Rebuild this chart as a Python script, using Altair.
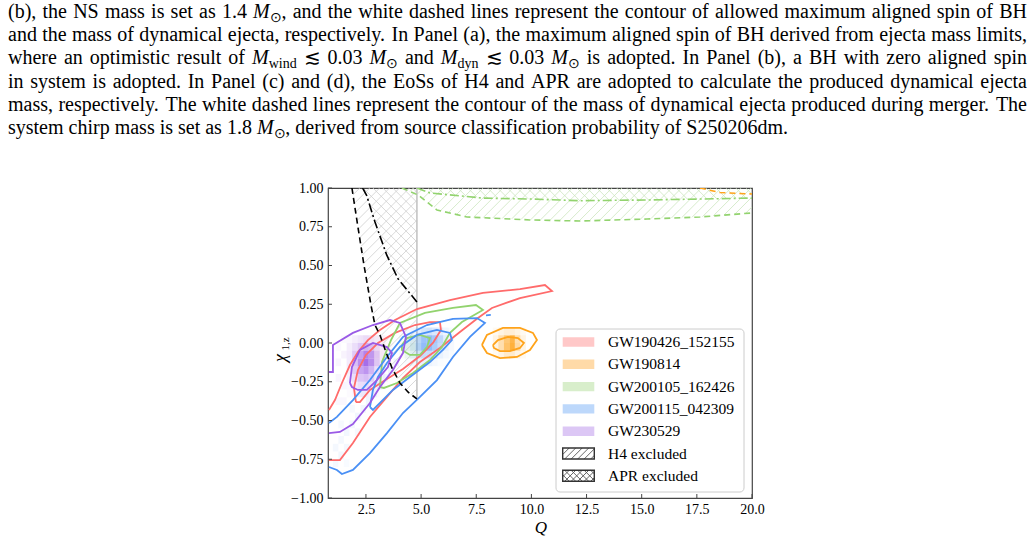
import re

import altair as alt
import numpy as np
import pandas as pd

SERIF = "Liberation Serif"

# page position of the plot frame (left, top); plot area is 424 x 310 px
ORIGIN_X, ORIGIN_Y = 328, 188
PLOT_W, PLOT_H = 424, 310

# ---------------------------------------------------------------- caption
# {..} italic, [..] subscript
caption_lines = [
    "(b), the NS mass is set as 1.4 {M}[\u2299], and the white dashed lines represent the contour of allowed maximum aligned spin of BH",
    "and the mass of dynamical ejecta, respectively. In Panel (a), the maximum aligned spin of BH derived from ejecta mass limits,",
    "where an optimistic result of {M}[wind] \u2272 0.03 {M}[\u2299] and {M}[dyn] \u2272 0.03 {M}[\u2299] is adopted. In Panel (b), a BH with zero aligned spin",
    "in system is adopted. In Panel (c) and (d), the EoSs of H4 and APR are adopted to calculate the produced dynamical ejecta",
    "mass, respectively. The white dashed lines represent the contour of the mass of dynamical ejecta produced during merger. The",
    "system chirp mass is set as 1.8 {M}[\u2299], derived from source classification probability of S250206dm.",
]
caption_baselines = [18, 41, 64, 87.5, 110.5, 133.5]
TEXT_LEFT, TEXT_RIGHT = 8, 1027
BODY_SIZE, SUB_SIZE = 20, 14

# ---------------------------------------------------------------- axes
Q_DOMAIN = [0.78, 20.0]
CHI_DOMAIN = [-1.0, 1.0]
x_ticks = [2.5, 5.0, 7.5, 10.0, 12.5, 15.0, 17.5, 20.0]
y_ticks = [-1.0, -0.75, -0.5, -0.25, 0.0, 0.25, 0.5, 0.75, 1.0]

events = ["GW190426_152155", "GW190814", "GW200105_162426", "GW200115_042309", "GW230529"]
line_colors = ["#ff6b6b", "#ffa31a", "#92d36e", "#4a90f5", "#9a5ae6"]
patch_colors = ["#ffc8c8", "#ffdaa8", "#d8eecb", "#bdd8fb", "#dcc7f5"]

# ---------------------------------------------------------------- excluded regions
EDGE_Q = 4.81
h4_q = [1.865, 2.137, 2.41, 2.727, 2.908, 3.135, 3.407, 3.68, 4.04, 4.404, 4.81]
h4_chi = [1.0, 0.748, 0.503, 0.245, 0.116, 0.052, -0.058, -0.161, -0.258, -0.316, -0.361]
apr_q = [2.35, 2.53, 2.91, 3.44, 3.95, 4.81]
apr_chi = [1.0, 0.953, 0.78, 0.568, 0.415, 0.265]
green_dash_q = [4.13, 4.86, 5.72, 7.08, 9.93, 12.2, 15.24, 17.64, 20.0]
green_dash_chi = [1.0, 0.955, 0.858, 0.813, 0.794, 0.787, 0.80, 0.813, 0.839]
green_dashdot_q = [4.81, 5.40, 7.80, 9.93, 12.2, 15.37, 20.0]
green_dashdot_chi = [1.0, 0.968, 0.935, 0.929, 0.918, 0.923, 0.935]
orange_dash_q = [17.64, 18.55, 20.0]
orange_dash_chi = [1.0, 0.971, 0.961]

# ---------------------------------------------------------------- credible contours (Q, chi_1z)
gw190426_outer = [(0.823, -0.432), (1.095, -0.368), (1.412, -0.258), (1.775, -0.142), (2.138, -0.058),
                  (2.591, 0.019), (3.135, 0.084), (3.815, 0.148), (4.812, 0.219), (6.308, 0.277),
                  (7.804, 0.323), (9.481, 0.348), (10.614, 0.374), (10.932, 0.335), (9.481, 0.29),
                  (8.212, 0.226), (7.577, 0.161), (6.76, 0.071), (5.854, -0.032), (4.948, -0.123),
                  (4.177, -0.226), (3.452, -0.348), (2.681, -0.477), (1.91, -0.645), (1.32, -0.755),
                  (0.823, -0.755)]
gw190426_inner = [(2.046, -0.381), (1.956, -0.29), (2.137, -0.174), (2.5, -0.077), (3.044, 0.0),
                  (3.815, 0.065), (4.721, 0.116), (5.401, 0.135), (5.854, 0.135), (5.9, 0.084),
                  (5.537, 0.0), (4.948, -0.084), (4.177, -0.168), (3.452, -0.232), (2.681, -0.303),
                  (2.228, -0.381), (2.046, -0.381)]
gw190814_outer = [(7.758, -0.013), (7.985, 0.052), (8.71, 0.097), (9.481, 0.097), (10.07, 0.065),
                  (10.252, 0.019), (9.934, -0.045), (9.345, -0.09), (8.574, -0.097), (7.985, -0.065),
                  (7.758, -0.013)]
gw190814_inner = [(8.257, -0.013), (8.484, 0.019), (8.937, 0.039), (9.39, 0.032), (9.662, 0.0),
                  (9.481, -0.032), (9.028, -0.052), (8.574, -0.052), (8.302, -0.032), (8.257, -0.013)]
gw200105_outer = [(3.136, -0.284), (3.227, -0.123), (3.635, 0.019), (4.041, 0.129), (5.174, 0.194),
                  (6.444, 0.226), (7.486, 0.245), (7.804, 0.213), (7.486, 0.187), (6.852, 0.135),
                  (6.308, 0.065), (5.945, -0.026), (5.401, -0.11), (4.63, -0.194), (3.905, -0.258),
                  (3.316, -0.29), (3.136, -0.284)]
gw200105_inner = [(4.132, -0.013), (4.358, 0.032), (4.948, 0.052), (5.401, 0.032), (5.265, -0.026),
                  (4.948, -0.077), (4.494, -0.077), (4.132, -0.045), (4.132, -0.013)]
gw200115_outer = [(0.823, -0.516), (1.185, -0.477), (1.91, -0.368), (2.681, -0.239), (3.452, -0.09),
                  (4.177, 0.039), (5.265, 0.116), (6.444, 0.155), (7.532, 0.161), (7.895, 0.129),
                  (7.215, 0.039), (6.444, -0.09), (5.719, -0.239), (4.948, -0.348), (4.177, -0.452),
                  (3.452, -0.581), (2.681, -0.71), (1.91, -0.819), (1.411, -0.845), (1.185, -0.819),
                  (0.823, -0.8)]
gw200115_inner = [(2.681, -0.413), (2.817, -0.303), (3.044, -0.219), (3.452, -0.129), (4.041, -0.026),
                  (4.811, 0.052), (5.718, 0.084), (6.308, 0.065), (6.398, 0.019), (5.99, -0.045),
                  (5.401, -0.123), (4.494, -0.219), (3.724, -0.303), (3.135, -0.387), (2.817, -0.432),
                  (2.681, -0.413)]
gw200115_speck = [(7.94, 0.178), (8.16, 0.181)]
gw230529_outer = [(0.823, -0.187), (1.004, -0.187), (1.004, -0.013), (1.91, 0.065), (2.817, 0.116),
                  (3.588, 0.148), (4.041, 0.129), (4.313, 0.039), (4.177, -0.065), (3.724, -0.174),
                  (3.135, -0.284), (2.681, -0.387), (1.91, -0.523), (1.32, -0.574), (0.823, -0.581)]
gw230529_inner = [(1.774, -0.258), (1.865, -0.155), (2.228, -0.045), (2.817, 0.0), (3.452, -0.026),
                  (3.679, -0.065), (3.497, -0.155), (2.998, -0.239), (2.545, -0.303), (2.137, -0.303),
                  (1.865, -0.284), (1.774, -0.258)]

contours = [
    ("GW190426_152155", gw190426_outer), ("GW190426_152155", gw190426_inner),
    ("GW190814", gw190814_outer), ("GW190814", gw190814_inner),
    ("GW200105_162426", gw200105_outer), ("GW200105_162426", gw200105_inner),
    ("GW200115_042309", gw200115_outer), ("GW200115_042309", gw200115_inner),
    ("GW200115_042309", gw200115_speck),
    ("GW230529", gw230529_outer), ("GW230529", gw230529_inner),
]

# ---------------------------------------------------------------- posterior densities (bin centres, opacity)
BIN_Q, BIN_CHI = 0.25, 0.05
orange_q = [8.375, 8.625, 8.875, 9.125, 9.375, 9.625]
orange_chi = [0.075, 0.025, -0.025, -0.075]
orange_a = [[.06, .12, .18, .18, .12, .06],
            [.12, .35, .60, .80, .35, .12],
            [.12, .35, .65, .85, .40, .12],
            [.06, .12, .22, .22, .12, .06]]
purple_q = [1.75, 2.0, 2.25, 2.5, 2.75, 3.0, 3.25]
purple_chi = [0.025, -0.025, -0.075, -0.125, -0.175, -0.225, -0.275, -0.325]
purple_a = [[.05, .10, .15, .20, .15, .10, .05],
            [.10, .20, .32, .45, .38, .20, .08],
            [.12, .32, .55, .75, .62, .32, .10],
            [.12, .38, .68, .88, .68, .32, .10],
            [.10, .32, .55, .65, .45, .20, .08],
            [.08, .20, .35, .40, .30, .12, .05],
            [.05, .12, .20, .22, .15, .08, .03],
            [.03, .06, .10, .10, .06, .03, .00]]
blue_q = [4.375, 4.625, 4.875, 5.125, 5.375, 5.625, 5.875, 6.125, 6.375]
blue_chi = [0.075, 0.025, -0.025, -0.075, -0.125]
blue_a = [[.04, .08, .15, .22, .25, .20, .15, .08, .04],
          [.08, .15, .35, .55, .60, .50, .35, .15, .06],
          [.08, .18, .40, .60, .60, .45, .30, .12, .05],
          [.05, .12, .22, .30, .30, .22, .12, .06, .03],
          [.03, .06, .10, .12, .10, .06, .03, .02, .00]]
red_q = [2.375, 2.625, 2.875, 3.125, 3.375, 3.625]
red_chi = [0.025, -0.025, -0.075, -0.125]
red_a = [[.02, .02, .03, .03, .03, .02],
         [.03, .04, .05, .05, .04, .03],
         [.04, .06, .06, .05, .04, .02],
         [.03, .04, .04, .03, .02, .01]]
green_q = [4.125, 4.375, 4.625, 4.875]
green_chi = [0.025, -0.025, -0.075]
green_a = [[.05, .10, .12, .08],
           [.08, .15, .18, .10],
           [.04, .08, .10, .05]]
# faint tail of the GW200115_042309 / GW230529 posteriors towards low Q
blue_tail = [(1.125, -0.675, .06), (1.375, -0.725, .07), (1.375, -0.625, .06), (1.625, -0.675, .06),
             (1.625, -0.575, .07), (1.875, -0.525, .07), (2.125, -0.475, .08), (2.125, -0.575, .05),
             (2.375, -0.425, .08), (2.625, -0.375, .08), (2.875, -0.325, .08), (3.125, -0.275, .08),
             (3.375, -0.225, .08), (3.625, -0.175, .08), (3.875, -0.125, .08), (1.125, -0.775, .05),
             (1.625, -0.775, .04), (1.375, -0.525, .05), (1.875, -0.425, .05), (2.375, -0.325, .05)]
purple_tail = [(1.25, -0.125, .06), (1.25, -0.225, .06), (1.5, -0.075, .07), (1.5, -0.275, .06),
               (1.25, -0.375, .05), (1.5, -0.375, .05), (1.25, -0.025, .04), (1.5, 0.025, .04)]

densities = [
    ("GW190426_152155", red_q, red_chi, red_a),
    ("GW200105_162426", green_q, green_chi, green_a),
    ("GW200115_042309", blue_q, blue_chi, blue_a),
    ("GW230529", purple_q, purple_chi, purple_a),
    ("GW190814", orange_q, orange_chi, orange_a),
]

# ---------------------------------------------------------------- helpers
XS = alt.Scale(domain=Q_DOMAIN, nice=False, zero=False)
YS = alt.Scale(domain=CHI_DOMAIN, nice=False, zero=False)
AX_X = alt.Axis(values=x_ticks, format=".1f", title=None, ticks=False, domain=False, grid=False,
                labelFont=SERIF, labelFontSize=14, labelColor="black", labelPadding=4,
                labelFlush=False, labelOverlap=False)
AX_Y = alt.Axis(values=y_ticks, format=".2f", title=None, ticks=False, domain=False, grid=False,
                labelFont=SERIF, labelFontSize=14, labelColor="black", labelPadding=5,
                labelFlush=False, labelOverlap=False)


def X(f):
    return alt.X(f"{f}:Q", scale=XS, axis=AX_X)


def Y(f):
    return alt.Y(f"{f}:Q", scale=YS, axis=AX_Y)


EV_COLOR = alt.Color("ev:N", scale=alt.Scale(domain=events, range=line_colors), legend=None)

# a 45-degree stroke on screen rises this much chi per unit Q
SLOPE = (PLOT_W / (Q_DOMAIN[1] - Q_DOMAIN[0])) / (PLOT_H / (CHI_DOMAIN[1] - CHI_DOMAIN[0]))
HATCH_STEP = 0.45


def hatch(inside, q_lo, q_hi, c_lo, c_hi, sign):
    qs = np.linspace(q_lo, q_hi, 1500)
    if sign > 0:
        offs = np.arange(c_lo - SLOPE * q_hi, c_hi - SLOPE * q_lo, SLOPE * HATCH_STEP)
    else:
        offs = np.arange(c_lo + SLOPE * q_lo, c_hi + SLOPE * q_hi, SLOPE * HATCH_STEP)
    segs = []
    for o in offs:
        cs = o + sign * SLOPE * qs
        m = inside(qs, cs) & (cs >= c_lo) & (cs <= c_hi)
        idx = np.nonzero(m)[0]
        if len(idx) >= 2:
            segs.append((qs[idx[0]], cs[idx[0]], qs[idx[-1]], cs[idx[-1]]))
    return pd.DataFrame(segs, columns=["q0", "c0", "q1", "c1"])


def in_h4(q, c):
    return (q <= EDGE_Q) & (q >= np.interp(c, h4_chi[::-1], h4_q[::-1]))


def in_apr(q, c):
    return (q <= EDGE_Q) & (q >= np.interp(c, apr_chi[::-1], apr_q[::-1]))


def in_green_dash(q, c):
    return (q >= green_dash_q[0]) & (c >= np.interp(q, green_dash_q, green_dash_chi))


def in_green_dashdot(q, c):
    return (q >= green_dashdot_q[0]) & (c >= np.interp(q, green_dashdot_q, green_dashdot_chi))


def hatch_layer(df, color):
    return alt.Chart(df).mark_rule(color=color, strokeWidth=0.8, clip=True).encode(
        x=X("q0"), y=Y("c0"), x2="q1", y2="c1")


def curve_layer(qs, cs, color, dash):
    df = pd.DataFrame({"Q": qs, "chi": cs, "i": range(len(qs))})
    return alt.Chart(df).mark_line(color=color, strokeWidth=1.6, strokeDash=dash, clip=True).encode(
        x=X("Q"), y=Y("chi"), order="i:Q")


layers = []

# hatched exclusion regions
layers.append(hatch_layer(hatch(in_h4, Q_DOMAIN[0], EDGE_Q, h4_chi[-1], 1.0, +1), "#cfcfcf"))
layers.append(hatch_layer(hatch(in_apr, Q_DOMAIN[0], EDGE_Q, apr_chi[-1], 1.0, -1), "#cfcfcf"))
layers.append(hatch_layer(hatch(in_green_dash, green_dash_q[0], 20.0, 0.75, 1.0, +1), "#cde6bf"))
layers.append(hatch_layer(hatch(in_green_dashdot, green_dashdot_q[0], 20.0, 0.88, 1.0, -1), "#cde6bf"))
layers.append(
    alt.Chart(pd.DataFrame({"Q": [EDGE_Q], "c0": [h4_chi[-1]], "c1": [1.0]}))
    .mark_rule(color="#c4c4c4", strokeWidth=1.6)
    .encode(x=X("Q"), y=Y("c0"), y2="c1")
)

# binned posterior densities
cells = []
for ev, qs, cs, amat in densities:
    for r, c in enumerate(cs):
        for k, q in enumerate(qs):
            if amat[r][k] > 0:
                cells.append((ev, q, c, amat[r][k]))
for q, c, a in blue_tail:
    cells.append(("GW200115_042309", q, c, a))
for q, c, a in purple_tail:
    cells.append(("GW230529", q, c, a))
dens = pd.DataFrame(cells, columns=["ev", "q", "c", "a"])
dens["q0"] = dens.q - BIN_Q / 2
dens["q1"] = dens.q + BIN_Q / 2
dens["c0"] = dens.c - BIN_CHI / 2
dens["c1"] = dens.c + BIN_CHI / 2
layers.append(
    alt.Chart(dens).mark_rect(strokeWidth=0).encode(
        x=X("q0"), x2="q1", y=Y("c0"), y2="c1", color=EV_COLOR, opacity=alt.Opacity("a:Q", scale=None))
)

# contour lines
rows = []
for cid, (ev, pts) in enumerate(contours):
    for i, (q, c) in enumerate(pts):
        rows.append((cid, ev, i, q, c))
cont = pd.DataFrame(rows, columns=["cid", "ev", "i", "Q", "chi"])
layers.append(
    alt.Chart(cont).mark_line(strokeWidth=1.8, clip=True).encode(
        x=X("Q"), y=Y("chi"), color=EV_COLOR, detail="cid:N", order="i:Q")
)

# boundaries of the excluded regions
layers.append(curve_layer(green_dashdot_q, green_dashdot_chi, "#92d36e", [9, 3, 2, 3]))
layers.append(curve_layer(green_dash_q, green_dash_chi, "#92d36e", [6, 4]))
layers.append(curve_layer(orange_dash_q, orange_dash_chi, "#ffa31a", [6, 4]))
layers.append(curve_layer(h4_q, h4_chi, "black", [6, 4]))
layers.append(curve_layer(apr_q, apr_chi, "black", [9, 3, 2, 3]))

# inward ticks
layers.append(
    alt.Chart(pd.DataFrame({"Q": x_ticks})).mark_rule(color="#444444", strokeWidth=1).encode(
        x=X("Q"), y=alt.value(PLOT_H), y2=alt.value(PLOT_H - 4))
)
layers.append(
    alt.Chart(pd.DataFrame({"chi": y_ticks})).mark_rule(color="#444444", strokeWidth=1).encode(
        y=Y("chi"), x=alt.value(0), x2=alt.value(4))
)

# ---------------------------------------------------------------- legend
LEG_BOX = (228, 141, 416, 304)
LEG_ROW0, LEG_ROW_H = 154.0, 22.3
PATCH_X0, PATCH_X1 = 234.7, 266.3
legend_labels = events + ["H4 excluded", "APR excluded"]
dummy = pd.DataFrame({"k": [0]})

layers.append(
    alt.Chart(dummy).mark_rect(fill="white", fillOpacity=0.85, stroke="#cccccc", strokeWidth=1,
                               cornerRadius=4).encode(
        x=alt.value(LEG_BOX[0]), x2=alt.value(LEG_BOX[2]), y=alt.value(LEG_BOX[1]), y2=alt.value(LEG_BOX[3]))
)
patches = pd.DataFrame({
    "y0": [LEG_ROW0 + LEG_ROW_H * i - 4.7 for i in range(5)],
    "y1": [LEG_ROW0 + LEG_ROW_H * i + 4.7 for i in range(5)],
    "col": patch_colors,
})
layers.append(
    alt.Chart(patches).mark_rect().encode(
        x=alt.value(PATCH_X0), x2=alt.value(PATCH_X1),
        y=alt.Y("y0:Q", scale=None), y2="y1", color=alt.Color("col:N", scale=None))
)
# hatched swatches
sw = []
for i, kinds in ((5, ["/"]), (6, ["/", "\\"])):
    yc = LEG_ROW0 + LEG_ROW_H * i
    top, bot = yc - 5.5, yc + 5.5
    h = bot - top
    for kind in kinds:
        for s in np.arange(PATCH_X0 - h, PATCH_X1 + 0.1, 6.5):
            t0 = max(0.0, (PATCH_X0 - s) / h)
            t1 = min(1.0, (PATCH_X1 - s) / h)
            if t1 <= t0:
                continue
            if kind == "/":
                sw.append((s + t0 * h, bot - t0 * h, s + t1 * h, bot - t1 * h))
            else:
                sw.append((s + t0 * h, top + t0 * h, s + t1 * h, top + t1 * h))
swdf = pd.DataFrame(sw, columns=["x0", "y0", "x1", "y1"])
layers.append(
    alt.Chart(swdf).mark_rule(color="#555555", strokeWidth=0.9).encode(
        x=alt.X("x0:Q", scale=None), y=alt.Y("y0:Q", scale=None), x2="x1", y2="y1")
)
boxes = pd.DataFrame({
    "y0": [LEG_ROW0 + LEG_ROW_H * i - 5.5 for i in (5, 6)],
    "y1": [LEG_ROW0 + LEG_ROW_H * i + 5.5 for i in (5, 6)],
})
layers.append(
    alt.Chart(boxes).mark_rect(fill=None, stroke="#333333", strokeWidth=1.4).encode(
        x=alt.value(PATCH_X0), x2=alt.value(PATCH_X1), y=alt.Y("y0:Q", scale=None), y2="y1")
)
leg_text = pd.DataFrame({
    "t": legend_labels,
    "py": [LEG_ROW0 + LEG_ROW_H * i for i in range(len(legend_labels))],
    "px": [280.0] * len(legend_labels),
})
layers.append(
    alt.Chart(leg_text).mark_text(font=SERIF, fontSize=15.5, align="left", baseline="middle",
                                  color="black").encode(
        x=alt.X("px:Q", scale=None), y=alt.Y("py:Q", scale=None), text="t:N")
)

# ---------------------------------------------------------------- axis titles
titles = pd.DataFrame([
    (213, 340, "Q", 17, "italic", 0),
    (-47, 170, "\u03c7", 18, "italic", 270),
    (-42, 156, "1,z", 11, "normal", 270),
], columns=["px", "py", "t", "size", "style", "angle"])
for _, r in titles.iterrows():
    layers.append(
        alt.Chart(pd.DataFrame({"px": [r.px], "py": [r.py], "t": [r.t]}))
        .mark_text(font=SERIF, fontSize=float(r["size"]), fontStyle=r["style"], angle=float(r.angle),
                   align="center", baseline="middle", color="black")
        .encode(x=alt.X("px:Q", scale=None), y=alt.Y("py:Q", scale=None), text="t:N")
    )

# ---------------------------------------------------------------- caption typesetting (justified)
# advance widths of Liberation Serif / Times, in 1/1000 em
_W = {" ": 250, "!": 333, "(": 333, ")": 333, ",": 250, "-": 333, ".": 250, ":": 278, ";": 278,
      "_": 500, "'": 333, "\u2299": 838, "\u2272": 838}
_W.update({d: 500 for d in "0123456789"})
_W.update(dict(zip("ABCDEFGHIJKLMNOPQRSTUVWXYZ",
                   [722, 667, 667, 722, 611, 556, 722, 722, 333, 389, 722, 611, 889, 722, 722, 556,
                    722, 667, 556, 611, 722, 722, 944, 722, 722, 611])))
_W.update(dict(zip("abcdefghijklmnopqrstuvwxyz",
                   [444, 500, 444, 500, 444, 333, 500, 500, 278, 278, 500, 278, 778, 500, 500, 500,
                    500, 333, 389, 278, 500, 500, 722, 500, 500, 444])))
_W_IT = {"M": 833}
TOKEN = re.compile(r"\{([^}]*)\}|\[([^\]]*)\]|([^{\[]+)")


def text_width(s, style):
    size = SUB_SIZE if style == "sub" else BODY_SIZE
    table = _W_IT if style == "it" else {}
    return sum(table.get(ch, _W.get(ch, 600)) for ch in s) / 1000.0 * size


def split_words(line):
    words = [[]]
    for it, sub, rm in TOKEN.findall(line):
        if it:
            words[-1].append((it, "it"))
        elif sub:
            words[-1].append((sub, "sub"))
        else:
            for j, part in enumerate(rm.split(" ")):
                if j > 0:
                    words.append([])
                if part:
                    words[-1].append((part, "rm"))
    return [w for w in words if w]


pieces = []
for li, line in enumerate(caption_lines):
    words = split_words(line)
    widths = [sum(text_width(t, s) for t, s in w) for w in words]
    if li == len(caption_lines) - 1:
        gap = text_width(" ", "rm")
    else:
        gap = (TEXT_RIGHT - TEXT_LEFT - sum(widths)) / (len(words) - 1)
    x = TEXT_LEFT
    for w, ww in zip(words, widths):
        xx = x
        for t, s in w:
            pieces.append((xx - ORIGIN_X, caption_baselines[li] + (4 if s == "sub" else 0) - ORIGIN_Y, t, s))
            xx += text_width(t, s)
        x += ww + gap
cap = pd.DataFrame(pieces, columns=["px", "py", "t", "style"])
styles = {"rm": dict(fontSize=BODY_SIZE), "it": dict(fontSize=BODY_SIZE, fontStyle="italic"),
          "sub": dict(fontSize=SUB_SIZE)}
for style, part in cap.groupby("style"):
    layers.append(
        alt.Chart(part).mark_text(font=SERIF, align="left", baseline="alphabetic", color="black",
                                  **styles[style]).encode(
            x=alt.X("px:Q", scale=None), y=alt.Y("py:Q", scale=None), text="t:N")
    )

chart = (
    alt.layer(*layers)
    .properties(
        width=PLOT_W, height=PLOT_H,
        padding={"left": ORIGIN_X, "top": ORIGIN_Y, "right": 1034 - ORIGIN_X - PLOT_W,
                 "bottom": 543 - ORIGIN_Y - PLOT_H},
        autosize=alt.AutoSizeParams(type="none"),
        background="white",
    )
    .configure_view(stroke="#444444", strokeWidth=1.2)
)

chart.save("out.html", embed_options={"renderer": "svg", "actions": False})
